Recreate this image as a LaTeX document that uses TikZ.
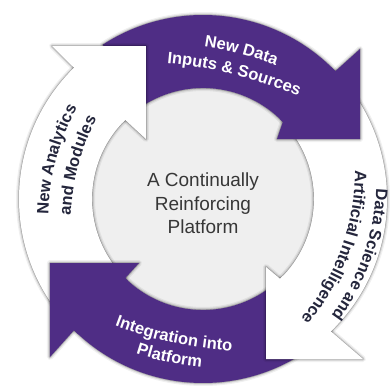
\documentclass[tikz,border=0pt]{standalone}
\usepackage{fontspec}
\setmainfont{Liberation Sans}
\usetikzlibrary{calc}
\usetikzlibrary{decorations.text}

\definecolor{ringpurple}{RGB}{79,45,133}
\definecolor{discgray}{RGB}{239,239,239}
\definecolor{navytext}{RGB}{36,38,60}
\definecolor{hubtext}{RGB}{55,55,55}

% radii of the ring
\def\ro{184}
\def\ri{111}

\newcommand{\labelfont}{\fontsize{16.5}{19}\selectfont\bfseries}

% colour, mid angle, baseline radius, bend radius, start angle, end angle, text
\newcommand{\bandtext}[7]{%
  \path[decorate, decoration={text along path, text align=center, text color=#1, text={|\labelfont|#7}}]
    ($(#2:#3-#4)+(#5:#4)$) arc[start angle=#5, end angle=#6, radius=#4 pt];}

\begin{document}
\begin{tikzpicture}[x=1pt,y=1pt, line join=round]
\useasboundingbox (-203,-190) rectangle (188,199);

% Head corners: outer barb, tip, inner barb
\coordinate (data-bo) at (157,150);
\coordinate (data-tip) at (157,60);
\coordinate (data-bi) at (74,60);
\coordinate (science-bo) at (160,-160);
\coordinate (science-tip) at (63,-160);
\coordinate (science-bi) at (63,-68);
\coordinate (integ-bo) at (-153,-158);
\coordinate (integ-tip) at (-153,-64);
\coordinate (integ-bi) at (-64,-64);
\coordinate (analytics-bo) at (-151,153);
\coordinate (analytics-tip) at (-57,153);
\coordinate (analytics-bi) at (-57,60);

% Centre disc
\fill[discgray] (0,0) circle[radius=\ri pt];

% Arrow bodies (head end angle / tail angle): shadows, then fills
\foreach \e/\t in {44/123,-46/36.5,-134.5/-52,134.5/218}
  \foreach \w/\o in {6/0.06,3.5/0.1,1.4/0.22}
    \draw[line width=\w pt, draw opacity=\o]
      (\e:\ro) arc[start angle=\e, end angle=\t, radius=\ro pt]
      -- (\t:\ri) arc[start angle=\t, end angle=\e, radius=\ri pt];
\foreach \e/\t/\col in {44/123/ringpurple,-46/36.5/white,-134.5/-52/ringpurple,134.5/218/white}
  \fill[\col]
    (\e:\ro) arc[start angle=\e, end angle=\t, radius=\ro pt]
    -- (\t:\ri) arc[start angle=\t, end angle=\e, radius=\ri pt] -- cycle;

% Arrow heads: shadows, then fills
\foreach \a/\e in {data/44,science/-46,integ/-134.5,analytics/134.5}
  \foreach \w/\o in {6/0.06,3.5/0.1,1.4/0.22}
    \draw[line width=\w pt, draw opacity=\o]
      (\e:\ro) -- (\a-bo) -- (\a-tip) -- (\a-bi) -- (\e:\ri);
\foreach \a/\e/\col in {data/44/ringpurple,science/-46/white,integ/-134.5/ringpurple,analytics/134.5/white}
  \fill[\col] (\e+2:\ro) -- (\e:\ro) -- (\a-bo) -- (\a-tip) -- (\a-bi)
    -- (\e:\ri) -- (\e+2:\ri) -- cycle;

% Labels on the ring
\bandtext{white}{75.5}{149.5}{350}{108}{43}{New Data}
\bandtext{white}{76}{128}{450}{101}{51}{Inputs {\&} Sources}
\bandtext{navytext}{-19.5}{170}{230}{20.5}{-59.5}{Data Science and}
\bandtext{navytext}{-20}{147}{230}{25.5}{-65.5}{Artificial Intelligence}
\bandtext{white}{-102}{147}{400}{-127}{-77}{Integration into}
\bandtext{white}{-102}{167}{300}{-135}{-69}{Platform}
\bandtext{navytext}{165}{152}{230}{205}{125}{New Analytics}
\bandtext{navytext}{165}{129}{230}{205}{125}{and Modules}

% Centre text
\node[align=center, text=hubtext, font=\fontsize{19}{23.5}\selectfont] (hub) at (0,-4.5)
  {A Continually\\Reinforcing\\Platform};
\end{tikzpicture}
\end{document}
